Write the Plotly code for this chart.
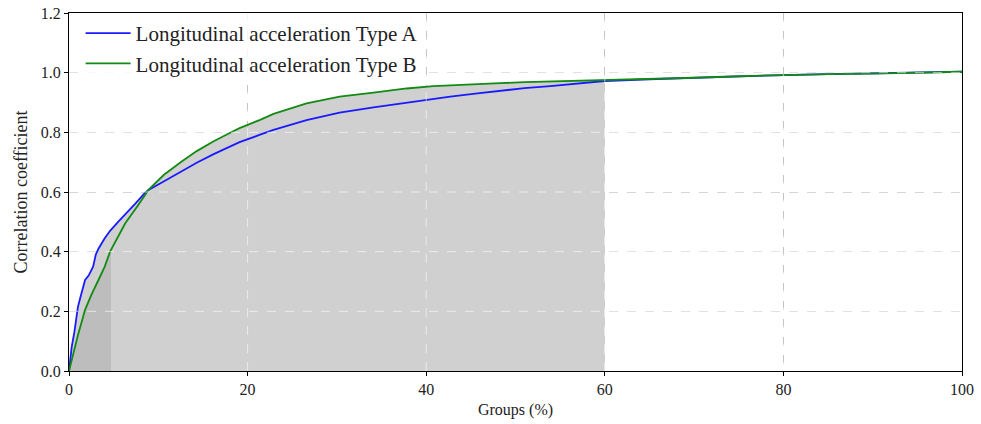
import numpy as np
import plotly.graph_objects as go

# ---- data ----
x_a = [0, 0.3, 0.6, 1.0, 1.3, 1.8, 2.2, 2.7, 3.0, 3.3, 4.0, 4.6, 5.5, 6.5, 7.4, 8.5,
       8.9, 10.6, 12.5, 14.3, 16.2, 18.0, 19.1, 21.4, 22.9, 26.6, 30.3, 34.1, 37.8,
       40.8, 42.7, 45.5, 48.3, 51, 53.9, 56.5, 60, 65, 70, 75, 80, 85, 90, 95, 100]
y_a = [0, 0.08, 0.13, 0.215, 0.25, 0.305, 0.32, 0.35, 0.39, 0.41, 0.445, 0.47, 0.50,
       0.53, 0.56, 0.597, 0.607, 0.635, 0.668, 0.698, 0.727, 0.752, 0.767, 0.792,
       0.808, 0.841, 0.866, 0.884, 0.90, 0.914, 0.92, 0.93, 0.94, 0.948, 0.955, 0.962,
       0.972, 0.978, 0.983, 0.988, 0.992, 0.995, 0.997, 0.999, 1.003]

x_b = [0, 0.5, 1.0, 1.8, 2.5, 3.3, 4.0, 4.6, 5.5, 6.3, 7.6, 8.5, 8.9, 10.6, 12.5,
       14.3, 16.2, 18.0, 19.1, 21.4, 22.9, 26.6, 30.3, 34.1, 37.8, 40.8, 42.7, 45.5,
       48.3, 51, 53.9, 56.5, 60, 65, 70, 75, 80, 85, 90, 95, 100]
y_b = [0, 0.06, 0.12, 0.205, 0.255, 0.305, 0.35, 0.40, 0.45, 0.495, 0.55, 0.592,
       0.607, 0.657, 0.70, 0.737, 0.77, 0.798, 0.814, 0.842, 0.862, 0.897, 0.92, 0.933,
       0.947, 0.955, 0.958, 0.962, 0.965, 0.968, 0.97, 0.972, 0.974, 0.978, 0.983,
       0.988, 0.992, 0.995, 0.997, 0.999, 1.003]

names = ["Longitudinal acceleration Type A", "Longitudinal acceleration Type B"]
shade_limits = [4.7, 60]          # dark shade up to 4.7 %, light shade up to 60 %
x_ticks = [0, 20, 40, 60, 80, 100]
y_ticks = [0.0, 0.2, 0.4, 0.6, 0.8, 1.0, 1.2]

# ---- derived shaded regions ----
xa, ya, xb, yb = map(np.array, (x_a, y_a, x_b, y_b))
grid = np.unique(np.concatenate([xa, xb]))
env = np.maximum(np.interp(grid, xa, ya), np.interp(grid, xb, yb))
mask = grid <= shade_limits[1]
light_x = grid[mask]
light_y = env[mask]
dmask = xb <= shade_limits[0]
dark_x = np.append(xb[dmask], shade_limits[0])
dark_y = np.append(yb[dmask], np.interp(shade_limits[0], xb, yb))

fig = go.Figure()
fig.add_trace(go.Scatter(x=light_x, y=light_y, fill="tozeroy", mode="none",
                         fillcolor="#d0d0d0", showlegend=False, hoverinfo="skip"))
fig.add_trace(go.Scatter(x=dark_x, y=dark_y, fill="tozeroy", mode="none",
                         fillcolor="#bdbdbd", showlegend=False, hoverinfo="skip"))
fig.add_trace(go.Scatter(x=x_a, y=y_a, mode="lines", name=names[0],
                         line=dict(color="#1a1aff", width=1.8)))
fig.add_trace(go.Scatter(x=x_b, y=y_b, mode="lines", name=names[1],
                         line=dict(color="#138a13", width=1.8)))

# light overlay of gridlines (visible only on shaded areas)
shapes = []
for xv in x_ticks[1:-1]:
    shapes.append(dict(type="line", xref="x", yref="paper", x0=xv, x1=xv, y0=0, y1=1,
                       line=dict(color="rgba(255,255,255,0.6)", width=1, dash="dash"),
                       layer="above"))
for yv in y_ticks[1:-1]:
    shapes.append(dict(type="line", xref="paper", yref="y", x0=0, x1=1, y0=yv, y1=yv,
                       line=dict(color="rgba(255,255,255,0.6)", width=1, dash="dash"),
                       layer="above"))

font = "Liberation Serif, Times New Roman, serif"
axis_common = dict(showline=True, linecolor="black", linewidth=1.3, mirror=True,
                   ticks="outside", ticklen=4, tickcolor="black", automargin=False,
                   showgrid=True, gridcolor="#c4c4c4", griddash="dash", gridwidth=1,
                   zeroline=False, tickfont=dict(family=font, size=16, color="#222"))

fig.update_layout(
    width=981, height=424,
    margin=dict(l=69, r=19, t=13, b=53),
    paper_bgcolor="white", plot_bgcolor="white",
    font=dict(family=font, size=16, color="#222"),
    shapes=shapes,
    xaxis=dict(range=[0, 100], tickvals=x_ticks, ticktext=[str(v) for v in x_ticks],
               title=dict(text="Groups (%)", font=dict(family=font, size=16), standoff=6),
               **axis_common),
    yaxis=dict(range=[0, 1.2], tickvals=y_ticks, ticktext=[f"{v:.1f}" for v in y_ticks],
               title=dict(text="Correlation coefficient", font=dict(family=font, size=18),
                          standoff=8),
               **axis_common),
    legend=dict(x=0.013, y=1.0, xanchor="left", yanchor="top",
                bgcolor="rgba(255,255,255,0.8)", borderwidth=0, itemwidth=45,
                font=dict(family=font, size=21, color="#222"), tracegroupgap=0),
)

fig.write_html("out.html")
